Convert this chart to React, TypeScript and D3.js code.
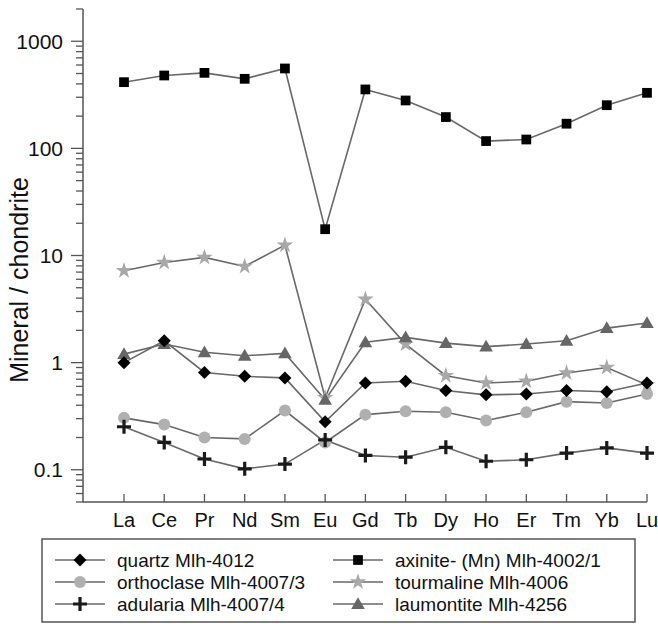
import { useRef, useEffect } from "react";
import * as d3 from "d3";

const elements = ["La", "Ce", "Pr", "Nd", "Sm", "Eu", "Gd", "Tb", "Dy", "Ho", "Er", "Tm", "Yb", "Lu"];

const quartz = [1.0, 1.6, 0.81, 0.745, 0.72, 0.28, 0.645, 0.67, 0.55, 0.5, 0.51, 0.55, 0.535, 0.645];
const orthoclase = [0.305, 0.264, 0.2, 0.194, 0.357, 0.18, 0.327, 0.352, 0.344, 0.288, 0.344, 0.432, 0.42, 0.51];
const adularia = [0.252, 0.18, 0.126, 0.102, 0.113, 0.19, 0.136, 0.131, 0.162, 0.12, 0.124, 0.143, 0.16, 0.143];
const axinite = [415, 479, 507, 446, 557, 17.6, 355, 280, 196, 117, 121, 170, 253, 330];
const tourmaline = [7.2, 8.6, 9.6, 7.9, 12.5, 0.47, 3.9, 1.49, 0.755, 0.645, 0.67, 0.8, 0.9, 0.62];
const laumontite = [1.2, 1.49, 1.25, 1.16, 1.22, 0.45, 1.55, 1.72, 1.52, 1.41, 1.49, 1.6, 2.1, 2.34];

const majorTicks = [0.1, 1, 10, 100, 1000];
const tickLabels = ["0.1", "1", "10", "100", "1000"];

type Shape = "diamond" | "circle" | "plus" | "square" | "star" | "triangle";

interface Series {
  name: string;
  values: number[];
  shape: Shape;
  color: string;
}

const series: Series[] = [
  { name: "axinite- (Mn) Mlh-4002/1", values: axinite, shape: "square", color: "#000" },
  { name: "tourmaline Mlh-4006", values: tourmaline, shape: "star", color: "#a8a8a8" },
  { name: "laumontite Mlh-4256", values: laumontite, shape: "triangle", color: "#666" },
  { name: "orthoclase Mlh-4007/3", values: orthoclase, shape: "circle", color: "#b0b0b0" },
  { name: "adularia Mlh-4007/4", values: adularia, shape: "plus", color: "#1a1a1a" },
  { name: "quartz Mlh-4012", values: quartz, shape: "diamond", color: "#000" },
];

const legendOrder = [
  "quartz Mlh-4012",
  "orthoclase Mlh-4007/3",
  "adularia Mlh-4007/4",
  "axinite- (Mn) Mlh-4002/1",
  "tourmaline Mlh-4006",
  "laumontite Mlh-4256",
];

function drawMarker(g: d3.Selection<SVGGElement, unknown, null, undefined>, s: Series, cx: number, cy: number) {
  if (s.shape === "circle") {
    g.append("circle").attr("cx", cx).attr("cy", cy).attr("r", 6).attr("fill", s.color);
  } else if (s.shape === "plus") {
    g.append("path")
      .attr("d", `M${cx - 7},${cy}H${cx + 7}M${cx},${cy - 7}V${cy + 7}`)
      .attr("stroke", s.color)
      .attr("stroke-width", 3.2)
      .attr("fill", "none");
  } else if (s.shape === "diamond") {
    const r = 6.5;
    g.append("path")
      .attr("d", `M${cx},${cy - r}L${cx + r},${cy}L${cx},${cy + r}L${cx - r},${cy}Z`)
      .attr("fill", s.color);
  } else {
    const type = s.shape === "square" ? d3.symbolSquare : s.shape === "star" ? d3.symbolStar : d3.symbolTriangle;
    const size = s.shape === "square" ? 95 : s.shape === "star" ? 85 : 80;
    g.append("path")
      .attr("d", d3.symbol().type(type).size(size)()!)
      .attr("transform", `translate(${cx},${cy + (s.shape === "triangle" ? 1 : 0)})`)
      .attr("fill", s.color);
  }
}

function Chart() {
  const svgRef = useRef<SVGSVGElement>(null);

  useEffect(() => {
    if (!svgRef.current) return;
    const svg = d3.select(svgRef.current);
    svg.selectAll("*").remove();

    const axisLeft = 83;
    const top = 9;
    const bottom = 502;
    const font = "Liberation Sans, Arial, sans-serif";
    const axisColor = "#555";

    const x = d3.scalePoint<string>().domain(elements).range([124, 647]);
    const y = d3.scaleLog().domain([0.05, 2000]).range([bottom, top]);

    const g = svg.append("g");

    // y minor ticks
    const minor: number[] = [];
    for (let e = -2; e <= 3; e++) {
      for (let m = 2; m <= 9; m++) {
        const v = m * Math.pow(10, e);
        if (v >= 0.05 && v <= 2000 + 1e-9) minor.push(v);
      }
    }
    g.selectAll("line.minor")
      .data(minor)
      .join("line")
      .attr("x1", axisLeft - 7)
      .attr("x2", axisLeft)
      .attr("y1", (d) => y(d))
      .attr("y2", (d) => y(d))
      .attr("stroke", axisColor)
      .attr("stroke-width", 1.3);
    g.selectAll("line.major")
      .data(majorTicks)
      .join("line")
      .attr("x1", axisLeft - 12)
      .attr("x2", axisLeft)
      .attr("y1", (d) => y(d))
      .attr("y2", (d) => y(d))
      .attr("stroke", axisColor)
      .attr("stroke-width", 1.3);
    g.selectAll("text.ylab")
      .data(majorTicks)
      .join("text")
      .attr("x", axisLeft - 20)
      .attr("y", (d) => y(d) + 7.5)
      .attr("text-anchor", "end")
      .style("font-family", font)
      .style("font-size", "21px")
      .style("fill", "#111")
      .text((d, i) => tickLabels[i]);

    // axes lines
    g.append("line")
      .attr("x1", axisLeft).attr("x2", axisLeft)
      .attr("y1", top).attr("y2", bottom)
      .attr("stroke", axisColor).attr("stroke-width", 1.5);
    g.append("line")
      .attr("x1", axisLeft).attr("x2", x("Lu")!)
      .attr("y1", bottom).attr("y2", bottom)
      .attr("stroke", axisColor).attr("stroke-width", 1.5);

    // x ticks (inside)
    g.selectAll("line.xt")
      .data(elements)
      .join("line")
      .attr("x1", (d) => x(d)!)
      .attr("x2", (d) => x(d)!)
      .attr("y1", bottom)
      .attr("y2", bottom - 8)
      .attr("stroke", axisColor)
      .attr("stroke-width", 1.3);
    g.selectAll("text.xl")
      .data(elements)
      .join("text")
      .attr("x", (d) => x(d)!)
      .attr("y", 527)
      .attr("text-anchor", "middle")
      .style("font-family", font)
      .style("font-size", "20px")
      .style("fill", "#111")
      .text((d) => d);

    // y title
    svg.append("text")
      .attr("transform", `translate(28,280) rotate(-90)`)
      .attr("text-anchor", "middle")
      .style("font-family", font)
      .style("font-size", "25px")
      .style("fill", "#111")
      .text("Mineral / chondrite");

    // series
    const line = d3.line<number>()
      .x((d, i) => x(elements[i])!)
      .y((d) => y(d));
    series.forEach((s) => {
      g.append("path")
        .attr("d", line(s.values)!)
        .attr("fill", "none")
        .attr("stroke", "#686868")
        .attr("stroke-width", 1.6);
    });
    series.forEach((s) => {
      const mg = g.append("g");
      s.values.forEach((v, i) => drawMarker(mg, s, x(elements[i])!, y(v)));
    });

    // legend
    const leg = svg.append("g");
    leg.append("rect")
      .attr("x", 42).attr("y", 539)
      .attr("width", 593).attr("height", 83)
      .attr("fill", "#fff")
      .attr("stroke", "#555")
      .attr("stroke-width", 1.5);
    legendOrder.forEach((name, i) => {
      const s = series.find((d) => d.name === name)!;
      const col = Math.floor(i / 3);
      const row = i % 3;
      const lx = col === 0 ? 55 : 333;
      const ly = 560 + row * 22;
      const lg = leg.append("g");
      lg.append("line")
        .attr("x1", lx).attr("x2", lx + 50)
        .attr("y1", ly).attr("y2", ly)
        .attr("stroke", "#686868").attr("stroke-width", 1.6);
      drawMarker(lg, s, lx + 25, ly);
      lg.append("text")
        .attr("x", col === 0 ? 117 : 395)
        .attr("y", ly + 7)
        .style("font-family", font)
        .style("font-size", "19px")
        .style("fill", "#111")
        .text(name);
    });

    return () => {
      svg.selectAll("*").remove();
    };
  }, []);

  return (
    <svg
      ref={svgRef}
      width={658}
      height={624}
      style={{ position: "absolute", left: 0, top: 0, background: "#fff" }}
    />
  );
}

export default function App() {
  return <Chart />;
}
